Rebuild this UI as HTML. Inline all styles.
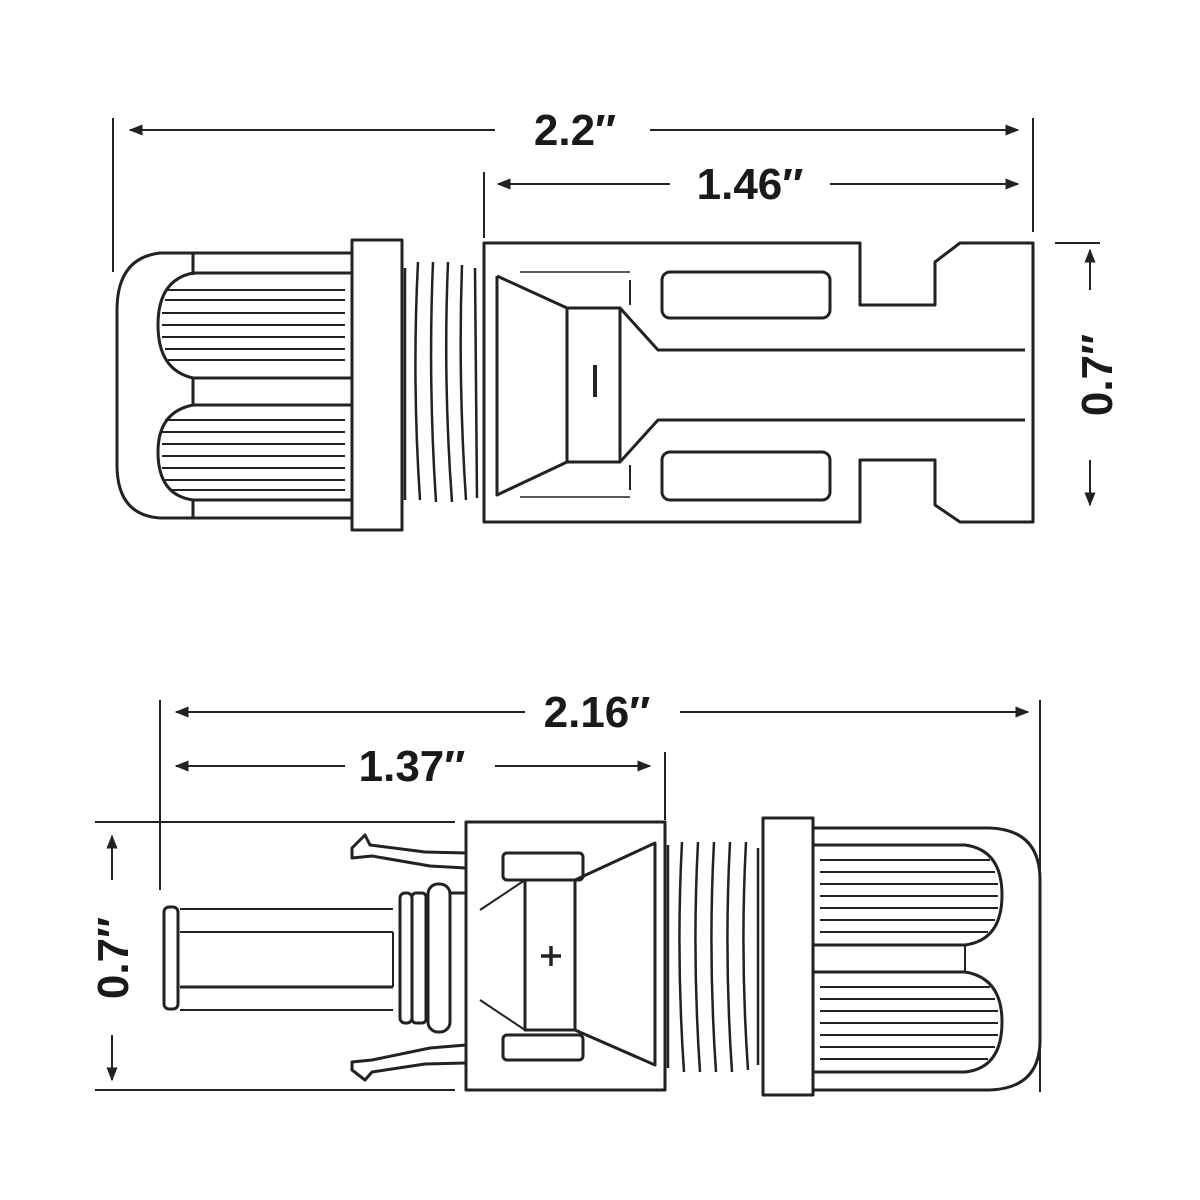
<!DOCTYPE html>
<html><head><style>
html,body{margin:0;padding:0;background:#fff;}
svg{display:block}
text{font-family:"Liberation Sans",sans-serif;font-weight:bold;fill:#1a1a1a}
</style></head><body>
<svg width="1200" height="1200" viewBox="0 0 1200 1200" xmlns="http://www.w3.org/2000/svg">
<defs>
<marker id="a" viewBox="0 0 10 10" refX="9" refY="5" markerWidth="7" markerHeight="7" orient="auto-start-reverse"><path d="M0,1 L10,5 L0,9 z" fill="#222"/></marker>
</defs>
<g stroke="#222" stroke-width="2" fill="none">
<!-- TOP dimensions -->
<line x1="113" y1="118" x2="113" y2="272"/>
<line x1="1033" y1="118" x2="1033" y2="232"/>
<line x1="484" y1="172" x2="484" y2="238"/>
<line x1="130" y1="130" x2="495" y2="130" marker-start="url(#a)"/>
<line x1="650" y1="130" x2="1018" y2="130" marker-end="url(#a)"/>
<line x1="498" y1="184" x2="670" y2="184" marker-start="url(#a)"/>
<line x1="830" y1="184" x2="1018" y2="184" marker-end="url(#a)"/>
<line x1="1055" y1="243" x2="1100" y2="243"/>
<line x1="1090" y1="250" x2="1090" y2="290" marker-start="url(#a)"/>
<line x1="1090" y1="460" x2="1090" y2="505" marker-end="url(#a)"/>
</g>
<text x="575" y="145" font-size="44" text-anchor="middle">2.2″</text>
<text x="750" y="199" font-size="44" text-anchor="middle">1.46″</text>
<text transform="translate(1112,375) rotate(-90)" font-size="44" text-anchor="middle">0.7″</text>

<g stroke="#222" stroke-width="3" fill="none" stroke-linejoin="round">
<!-- cap -->
<path d="M190,253 L160,253 Q117,258 117,310 L117,465 Q117,515 160,518 L190,518"/>
<line x1="190" y1="253" x2="352" y2="253"/>
<line x1="190" y1="518" x2="352" y2="518"/>
<line x1="193" y1="253" x2="193" y2="275"/>
<line x1="193" y1="378" x2="193" y2="405"/>
<line x1="193" y1="500" x2="193" y2="518"/>
<path d="M352,273 L193,273 Q158,280 158,325 Q158,370 193,378 L352,378 Z"/>
<path d="M352,405 L193,405 Q158,412 158,452 Q158,495 193,500 L352,500 Z"/>
<g stroke-width="2">
<line x1="165" y1="290" x2="345" y2="290"/><line x1="165" y1="300" x2="345" y2="300"/>
<line x1="162" y1="313" x2="345" y2="313"/><line x1="162" y1="325" x2="345" y2="325"/>
<line x1="162" y1="337" x2="345" y2="337"/><line x1="165" y1="349" x2="345" y2="349"/>
<line x1="168" y1="360" x2="345" y2="360"/>
<line x1="165" y1="420" x2="345" y2="420"/><line x1="162" y1="432" x2="345" y2="432"/>
<line x1="162" y1="444" x2="345" y2="444"/><line x1="162" y1="456" x2="345" y2="456"/>
<line x1="162" y1="468" x2="345" y2="468"/><line x1="165" y1="480" x2="345" y2="480"/>
<line x1="170" y1="490" x2="345" y2="490"/>
</g>
<!-- flange -->
<rect x="352" y="240" width="50" height="290"/>
<!-- threads -->
<g stroke-width="2.5">
<path d="M405,268 L405,500"/><path d="M418,262 Q412,380 420,500"/><path d="M433,262 Q428,380 436,502"/>
<path d="M448,262 Q443,380 452,502"/><path d="M462,265 Q458,380 466,500"/><path d="M475,268 L477,498"/>
</g>
<!-- socket body -->
<path d="M484,243 L860,243 L860,305 L935,305 L935,262 L960,243 L1033,243 L1033,522 L960,522 L935,505 L935,460 L860,460 L860,522 L484,522 Z"/>
<path d="M497,276 L567,308 L620,308 L658,350 L1025,350"/>
<path d="M497,276 L497,495 L567,462 L620,462 L658,420 L1025,420"/>
<rect x="567" y="308" width="53" height="154"/>
<line x1="595" y1="365" x2="595" y2="397" stroke-width="4"/>
<line x1="620" y1="308" x2="620" y2="462"/>
<rect x="662" y="272" width="168" height="46" rx="8"/>
<rect x="662" y="452" width="168" height="48" rx="8"/>
<line x1="630" y1="280" x2="630" y2="305" stroke-width="2"/>
<line x1="630" y1="465" x2="630" y2="490" stroke-width="2"/>
<line x1="520" y1="272" x2="630" y2="272" stroke-width="1.5"/>
<line x1="520" y1="497" x2="630" y2="497" stroke-width="1.5"/>
</g>

<!-- BOTTOM dimensions -->
<g stroke="#222" stroke-width="2" fill="none">
<line x1="160" y1="700" x2="160" y2="890"/>
<line x1="1040" y1="700" x2="1040" y2="1092"/>
<line x1="665" y1="752" x2="665" y2="820"/>
<line x1="176" y1="712" x2="525" y2="712" marker-start="url(#a)"/>
<line x1="680" y1="712" x2="1028" y2="712" marker-end="url(#a)"/>
<line x1="176" y1="766" x2="345" y2="766" marker-start="url(#a)"/>
<line x1="495" y1="766" x2="650" y2="766" marker-end="url(#a)"/>
<line x1="95" y1="822" x2="455" y2="822"/>
<line x1="95" y1="1090" x2="455" y2="1090"/>
<line x1="112" y1="880" x2="112" y2="836" marker-end="url(#a)"/>
<line x1="112" y1="1035" x2="112" y2="1080" marker-end="url(#a)"/>
</g>
<text x="597" y="727" font-size="44" text-anchor="middle">2.16″</text>
<text x="412" y="781" font-size="44" text-anchor="middle">1.37″</text>
<text transform="translate(128,958) rotate(-90)" font-size="44" text-anchor="middle">0.7″</text>

<g stroke="#222" stroke-width="3" fill="none" stroke-linejoin="round">
<!-- pin -->
<rect x="164" y="907" width="14" height="102" rx="5"/>
<line x1="180" y1="909" x2="393" y2="909" stroke-width="2"/>
<line x1="180" y1="932" x2="393" y2="932" stroke-width="2"/>
<line x1="180" y1="987" x2="393" y2="987"/>
<line x1="180" y1="1010" x2="393" y2="1010" stroke-width="2"/>
<line x1="393" y1="932" x2="393" y2="987" stroke-width="2"/>
<rect x="400" y="893" width="12" height="130" rx="5"/>
<rect x="412" y="893" width="14" height="130" rx="4"/>
<rect x="428" y="884" width="22" height="148" rx="10"/>
<line x1="450" y1="893" x2="466" y2="893"/>
<!-- latches -->
<path d="M466,868 L430,866 L372,856 L352,858 L352,848 L365,835 L370,845 L425,852 L466,853"/>
<path d="M466,1045 L430,1048 L372,1060 L352,1062 L352,1070 L365,1080 L372,1072 L425,1064 L466,1063"/>
<!-- body box -->
<rect x="466" y="822" width="199" height="268"/>
<rect x="503" y="853" width="80" height="27" rx="4"/>
<rect x="503" y="1035" width="80" height="25" rx="4"/>
<rect x="525" y="880" width="50" height="150"/>
<path d="M575,880 L655,843 L655,1065 L575,1030"/>
<path d="M525,880 L480,910 M525,1030 L480,1000" stroke-width="2"/>
<line x1="541" y1="956" x2="561" y2="956" stroke-width="3.5"/>
<line x1="551" y1="946" x2="551" y2="966" stroke-width="3.5"/>
<!-- threads -->
<g stroke-width="2.5">
<path d="M668,845 L668,1068"/><path d="M682,842 Q676,955 684,1072"/><path d="M698,842 Q692,955 700,1072"/>
<path d="M714,842 Q708,955 716,1072"/><path d="M730,842 Q724,955 732,1072"/><path d="M746,842 Q740,955 748,1070"/><path d="M758,848 L758,1065"/>
</g>
<!-- flange -->
<rect x="763" y="818" width="50" height="277"/>
<!-- cap -->
<line x1="813" y1="828" x2="990" y2="828"/>
<line x1="813" y1="1090" x2="990" y2="1090"/>
<path d="M990,828 Q1040,830 1040,880 L1040,1040 Q1040,1088 990,1090"/>
<path d="M813,845 L965,845 Q1002,850 1002,895 Q1002,940 965,945 L813,945 Z"/>
<path d="M813,972 L965,972 Q1002,978 1002,1022 Q1002,1068 965,1072 L813,1072 Z"/>
<line x1="965" y1="945" x2="965" y2="972" stroke-width="2"/>
<g stroke-width="2">
<line x1="820" y1="860" x2="990" y2="860"/><line x1="820" y1="872" x2="995" y2="872"/>
<line x1="820" y1="884" x2="998" y2="884"/><line x1="820" y1="896" x2="998" y2="896"/>
<line x1="820" y1="908" x2="998" y2="908"/><line x1="820" y1="920" x2="995" y2="920"/>
<line x1="820" y1="932" x2="988" y2="932"/>
<line x1="820" y1="987" x2="990" y2="987"/><line x1="820" y1="999" x2="995" y2="999"/>
<line x1="820" y1="1011" x2="998" y2="1011"/><line x1="820" y1="1023" x2="998" y2="1023"/>
<line x1="820" y1="1035" x2="998" y2="1035"/><line x1="820" y1="1047" x2="995" y2="1047"/>
<line x1="820" y1="1059" x2="988" y2="1059"/>
</g>
</g>
</svg>
</body></html>
